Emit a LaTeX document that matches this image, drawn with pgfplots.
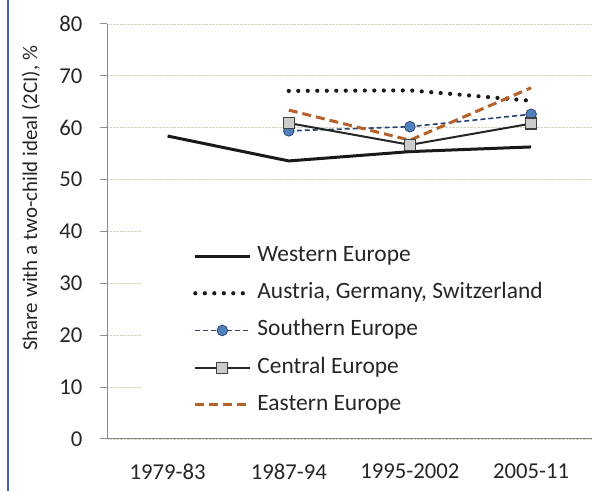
\documentclass[border=0pt]{standalone}
\usepackage{pgfplots}
\pgfplotsset{compat=1.18}
\usepackage{fontspec}
\setmainfont{Carlito}
\definecolor{gridc}{HTML}{D9D3C2}
\definecolor{axc}{HTML}{8C8C8C}
\definecolor{txt}{HTML}{262626}
\definecolor{sblue}{HTML}{4F81BD}
\definecolor{sbline}{HTML}{2A4474}
\definecolor{brown}{HTML}{B5612A}
\definecolor{frame}{HTML}{3F63A6}
\begin{document}
\begin{tikzpicture}[x=1bp,y=1bp]
\useasboundingbox (0,0) rectangle (597,491);
\draw[frame, line width=2bp] (8,0) -- (8,491);
\begin{axis}[
  at={(107bp,52bp)}, anchor=south west,
  scale only axis, width=484.7bp, height=415bp,
  xmin=-0.5, xmax=3.5, ymin=0, ymax=80,
  axis lines=left, axis line style={axc, line width=1bp, -},
  xtick={0,1,2,3},
  xticklabels={1979-83,1987-94,1995-2002,2005-11},
  x tick style={draw=none},
  extra x ticks={-0.5,0.5,1.5,2.5,3.5},
  extra x tick labels={},
  extra x tick style={tick style={draw=axc, line width=1bp}, major tick length=8bp, tick align=outside, grid=none},
  ytick={0,10,...,80},
  y tick style={draw=axc, line width=1bp},
  major tick length=7bp, tick align=outside,
  ymajorgrids, grid style={gridc, densely dotted, line width=0.8bp},
  tick label style={font=\fontsize{22.8}{26}\selectfont, text=txt},
  /pgf/number format/assume math mode=true,
  yticklabel style={xshift=-14bp},
  xticklabel style={yshift=-14bp},
  ylabel={Share with a two-child ideal (2CI), \%},
  ylabel style={at={(axis description cs:-0.157,0.58)}, anchor=center, font=\fontsize{21}{25}\selectfont, text=txt},
  clip=false,
  legend cell align=left,
  legend style={at={(axis cs:-0.211,40.8)}, anchor=north west, draw=none, fill=white,
     font=\fontsize{23.5}{27}\selectfont, text=txt, row sep=16.2bp, column sep=5bp,
     inner xsep=51bp, inner ysep=18bp,
     nodes={inner sep=0bp, text height=16bp, text depth=5bp}},
  legend image code/.code={\draw[mark repeat=2,mark phase=2,#1] plot coordinates {(0bp,0bp) (27bp,0bp) (55bp,0bp)};},
]
\addplot[color=black!90, line width=3bp, mark=none] coordinates {(0,58.4) (1,53.6) (2,55.4) (3,56.3)};
\addlegendentry{Western Europe}
\addplot[color=black!90, line width=4.2bp, line cap=round, dash pattern=on 0bp off 9.5bp, mark=none] coordinates {(1,67.1) (2,67.2) (3,65.2)};
\addlegendentry{Austria, Germany, Switzerland}
\addplot[color=sbline, line width=1.6bp, dash pattern=on 5bp off 3bp, mark=*, mark size=5.3bp, mark options={solid, fill=sblue, draw=sbline, line width=0.8bp}] coordinates {(1,59.4) (2,60.2) (3,62.6)};
\addlegendentry{Southern Europe}
\addplot[color=black!85, line width=2bp, mark=square*, mark size=5.5bp, mark options={solid, fill=black!20, draw=black!75, line width=1.2bp}] coordinates {(1,60.9) (2,56.7) (3,60.8)};
\addlegendentry{Central Europe}
\addplot[color=brown, line width=3bp, dash pattern=on 9bp off 5bp, mark=none] coordinates {(1,63.4) (2,57.6) (3,67.7)};
\addlegendentry{Eastern Europe}
\end{axis}
\end{tikzpicture}
\end{document}
